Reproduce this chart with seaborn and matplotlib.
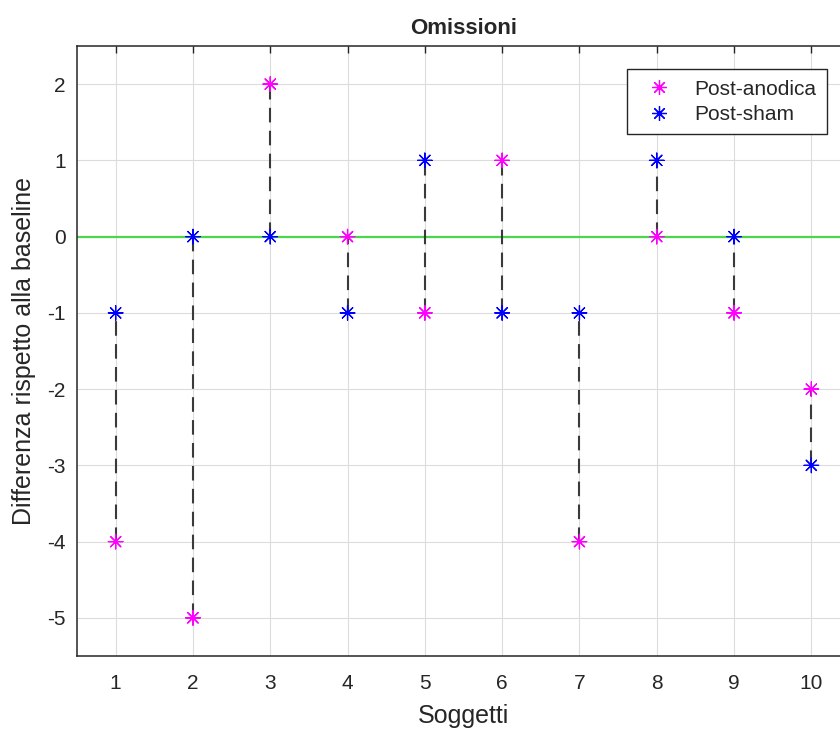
import pandas as pd
import numpy as np
import matplotlib
matplotlib.use("Agg")
import matplotlib.pyplot as plt
import seaborn as sns

# data
soggetti = [1, 2, 3, 4, 5, 6, 7, 8, 9, 10]
post_anodica = [-4, -5, 2, 0, -1, 1, -4, 0, -1, -2]
post_sham = [-1, 0, 0, -1, 1, -1, -1, 1, 0, -3]
yticks = [-5, -4, -3, -2, -1, 0, 1, 2]

df = pd.DataFrame({
    "Soggetti": soggetti * 2,
    "Valore": post_anodica + post_sham,
    "Condizione": ["Post-anodica"] * len(soggetti) + ["Post-sham"] * len(soggetti),
})

sns.set_style("white")
plt.rcParams['font.family'] = ['Liberation Sans', 'DejaVu Sans']
plt.rcParams['axes.unicode_minus'] = False

fig = plt.figure(figsize=(8.4, 7.36), dpi=100)
# right spine falls just outside the picture, as in the reference
ax = fig.add_axes([77 / 840, 80 / 736, 773 / 840, 610 / 736])

# zero line
ax.axhline(0, color='#4cd64c', lw=1.6, zorder=1.2)

# dashed connectors between the two conditions
ax.vlines(soggetti, np.minimum(post_anodica, post_sham), np.maximum(post_anodica, post_sham),
          colors='#3a3a3a', linestyles=(0, (7, 4)), lw=1.5, zorder=1.5)

sns.scatterplot(data=df, x="Soggetti", y="Valore", hue="Condizione",
                hue_order=["Post-anodica", "Post-sham"],
                palette={"Post-anodica": "#ff00ff", "Post-sham": "#0000ff"},
                marker=(8, 2, 0), s=110, linewidth=0.9, zorder=3, ax=ax)

ax.set_xlim(0.5, 10.5)
ax.set_ylim(-5.5, 2.5)
ax.set_xticks(soggetti)
ax.set_yticks(yticks)
ax.grid(True, color='#dcdcdc', lw=0.8)
ax.set_axisbelow(True)
ax.tick_params(direction='in', length=5, width=1, top=True, right=True,
               labelsize=15, colors='#262626')
ax.tick_params(axis='x', pad=13)
ax.tick_params(axis='y', pad=8)
for sp in ax.spines.values():
    sp.set_color('#262626')
    sp.set_linewidth(1.1)

ax.set_xlabel("Soggetti", fontsize=18, color='#262626', labelpad=8)
ax.set_ylabel("Differenza rispetto alla baseline", fontsize=18, color='#262626', labelpad=8)
ax.set_title("Omissioni", fontsize=16, fontweight='bold', pad=9)

handles, labels = ax.get_legend_handles_labels()
leg = ax.legend(handles, labels, loc='upper right', bbox_to_anchor=(0.970, 0.962),
                borderaxespad=0, fancybox=False, framealpha=1, edgecolor='#262626',
                fontsize=15, handlelength=2.1, handletextpad=0.65, borderpad=0.5,
                labelspacing=0.3)
leg.get_frame().set_linewidth(1)

plt.savefig("out.png", dpi=100)
